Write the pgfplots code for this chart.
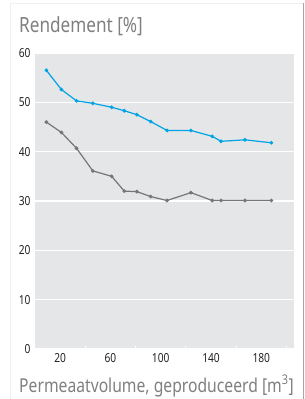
\documentclass[border=0pt]{standalone}
\usepackage{fontspec}
\setmainfont{Noto Sans}[FakeStretch=0.82]
\usepackage{pgfplots}
\pgfplotsset{compat=1.18}
\definecolor{bluel}{RGB}{0,164,228}
\definecolor{grayl}{RGB}{118,118,118}
\definecolor{bgfill}{RGB}{229,230,232}
\definecolor{txtgray}{RGB}{128,128,128}
\definecolor{tickc}{RGB}{35,35,35}
\begin{document}
\begin{tikzpicture}[x=1bp,y=1bp]
\path[use as bounding box] (0,0) rectangle (305,399);
\fill[white] (0,0) rectangle (305,399);
\draw[black!6, line width=1bp] (10,0) -- (10,395) -- (303,395);
\draw[black!35, line width=1.5bp] (303.5,0) -- (303.5,396);
\begin{axis}[
  at={(35bp,50bp)}, anchor=south west,
  scale only axis, width=259bp, height=296bp,
  xmin=0, xmax=206, ymin=0, ymax=60,
  axis line style={draw=none},
  axis background/.style={fill=bgfill},
  ytick={0,10,...,60},
  ymajorgrids, grid style={white, line width=1.2bp},
  major tick length=0pt,
  xtick={20,60,...,180},
  minor xtick={40,80,...,200},
  minor tick length=3bp,
  minor tick style={white, line width=0.8bp},
  xtick pos=bottom,
  tick label style={font=\fontsize{12.5}{14}\selectfont, text=tickc},
  /pgf/number format/assume math mode=true,
  yticklabel style={xshift=-1bp},
  xticklabel style={yshift=-1bp},
  clip=false,
]
\addplot[color=bluel, line width=1.2bp, mark=*, mark size=1.2bp] coordinates {
(9,56.5) (21,52.6) (33,50.3) (46,49.8) (61,49.0) (71,48.3) (81,47.5) (92,46.1) (105,44.3) (124,44.3) (141,43.1) (148,42.1) (167,42.4) (188,41.8)
};
\addplot[color=grayl, line width=1.2bp, mark=*, mark size=1.2bp] coordinates {
(9,46.0) (21,43.9) (33,40.7) (46,36.1) (61,35.0) (71,32.0) (81,31.9) (92,30.9) (105,30.1) (124,31.7) (141,30.1) (148,30.1) (167,30.1) (188,30.1)
};
\node[anchor=base west, text=txtgray, font=\fontsize{21}{24}\selectfont, inner sep=0pt] at ([xshift=-16bp, yshift=21bp]rel axis cs:0,1) {Rendement [\%]};
\node[anchor=base west, text=txtgray, font=\fontsize{19.2}{23}\selectfont, inner sep=0pt] at ([xshift=-16bp, yshift=-43bp]rel axis cs:0,0) {Permeaatvolume, geproduceerd [m\textsuperscript{3}]};
\end{axis}
\end{tikzpicture}
\end{document}
